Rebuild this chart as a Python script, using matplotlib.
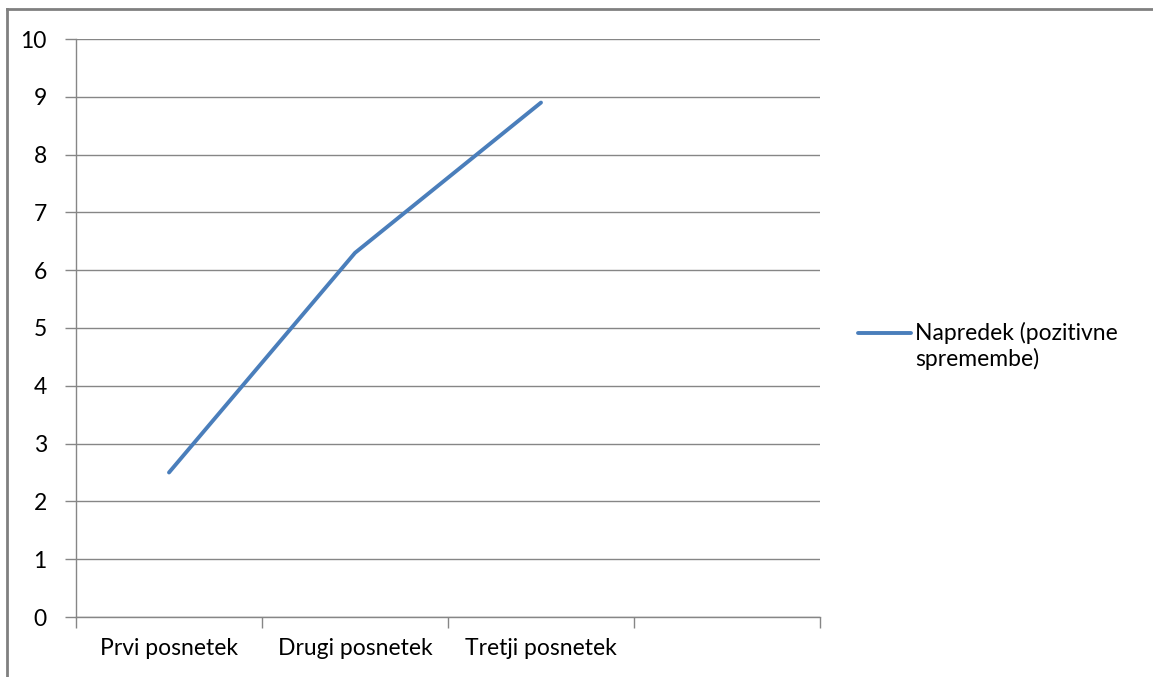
import matplotlib.pyplot as plt
from matplotlib.lines import Line2D

# napredek po posnetkih
kategorije = ["Prvi posnetek", "Drugi posnetek", "Tretji posnetek", ""]
napredek = [2.5, 6.3, 8.9]
oznaka = "Napredek (pozitivne\nspremembe)"
y_ticks = list(range(0, 11))

plt.rcParams['font.family'] = ['Lato', 'DejaVu Sans']
fs = 16.5

W, H = 1153, 677
fig = plt.figure(figsize=(W / 100, H / 100), dpi=100)
ax = fig.add_axes([76 / W, 1 - 617 / H, (820 - 76) / W, (617 - 39) / H])

siva = "#868686"
x = [i + 0.5 for i in range(len(napredek))]
ax.plot(x, napredek, color="#4a7ebb", lw=2.8, solid_capstyle="round",
        solid_joinstyle="round", label=oznaka)

ax.set_xlim(0, len(kategorije))
ax.set_ylim(0, 10)
ax.set_yticks(y_ticks)
ax.set_xticks(range(len(kategorije) + 1))
ax.set_xticklabels([])
ax.set_xticks([i + 0.5 for i in range(len(kategorije))], minor=True)
ax.set_xticklabels(kategorije, minor=True)
ax.tick_params(axis="x", which="minor", length=0, pad=15, labelsize=fs)
ax.tick_params(axis="x", which="major", length=8, color=siva, width=1)
ax.tick_params(axis="y", length=8, color=siva, width=1, pad=13, labelsize=fs)

ax.grid(axis="y", color=siva, lw=1)
ax.set_axisbelow(True)
for s in ["top", "right"]:
    ax.spines[s].set_visible(False)
for s in ["left", "bottom"]:
    ax.spines[s].set_color(siva)
    ax.spines[s].set_linewidth(1)

leg = ax.legend(loc="center left", bbox_to_anchor=(858 / W, 1 - 346 / H),
                bbox_transform=fig.transFigure, frameon=False, fontsize=fs,
                handlelength=2.3, handletextpad=0.2, borderpad=0, borderaxespad=0)
# crta legende v visini prve vrstice
hl = leg.legend_handles[0]
hl.set_ydata([v + 0.6 * fs for v in hl.get_ydata()])

# okvir grafikona
fig.add_artist(Line2D([7 / W, 1], [1 - 9 / H, 1 - 9 / H], color="#808080", lw=2,
                      transform=fig.transFigure))
fig.add_artist(Line2D([7 / W, 7 / W], [1 - 9 / H, 0], color="#808080", lw=2,
                      transform=fig.transFigure))

fig.savefig("out.png", dpi=100)
